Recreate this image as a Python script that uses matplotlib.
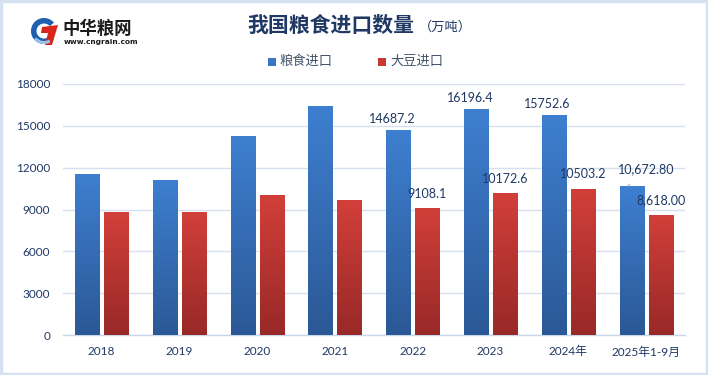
import matplotlib
matplotlib.use("Agg")
import matplotlib.pyplot as plt
import numpy as np
from matplotlib.colors import LinearSegmentedColormap
from matplotlib.patches import Rectangle, Wedge, Polygon

plt.rcParams['font.family'] = ['Lato', 'Noto Sans CJK SC', 'DejaVu Sans']

categories = ['2018', '2019', '2020', '2021', '2022', '2023', '2024年', '2025年1-9月']
grain = [11555.0, 11144.0, 14262.0, 16454.0, 14687.2, 16196.4, 15752.6, 10672.8]
soy = [8803.1, 8851.1, 10033.0, 9652.0, 9108.1, 10172.6, 10503.2, 8618.0]
grain_labels = [None, None, None, None, '14687.2', '16196.4', '15752.6', '10,672.80']
soy_labels = [None, None, None, None, '9108.1', '10172.6', '10503.2', '8,618.00']
yticks = [0, 3000, 6000, 9000, 12000, 15000, 18000]

W, H = 708, 375
fig = plt.figure(figsize=(W / 100, H / 100), dpi=100)
fig.patch.set_facecolor('white')

ax = fig.add_axes([62.6 / W, 40 / H, (685 - 62.6) / W, (335 - 84) / H])
ax.set_facecolor('white')
x = np.arange(len(categories))
bw = 0.31
off = 0.186

blue_cmap = LinearSegmentedColormap.from_list('b', ['#2b5896', '#3e7fd0'])
red_cmap = LinearSegmentedColormap.from_list('r', ['#982927', '#d23f3a'])

ax.set_xlim(-0.5, len(categories) - 0.5)
ax.set_ylim(0, 18000)

def grad_bars(xs, vals, cmap):
    bars = ax.bar(xs, vals, bw, color='none', edgecolor='none', zorder=3)
    grad = np.linspace(0, 1, 256).reshape(-1, 1)
    for b in bars:
        x0, y0 = b.get_x(), b.get_y()
        w, h = b.get_width(), b.get_height()
        im = ax.imshow(grad, cmap=cmap, aspect='auto', origin='lower',
                       extent=[x0, x0 + w, y0, y0 + h], zorder=3)
        im.set_clip_path(b)
    return bars

grad_bars(x - off, grain, blue_cmap)
grad_bars(x + off, soy, red_cmap)
ax.set_xlim(-0.5, len(categories) - 0.5)
ax.set_ylim(0, 18000)

label_color = '#1f3864'
lfs = 9
for i, (v, lab) in enumerate(zip(grain, grain_labels)):
    if lab is None:
        continue
    if i == len(categories) - 1:
        ax.annotate(lab, xy=(i - off - 0.05, v), xytext=(i + 0.0, v + 1250),
                    ha='center', va='center', fontsize=lfs, color=label_color,
                    arrowprops=dict(arrowstyle='-', color='#8eb4e3', lw=0.8,
                                    shrinkA=7, shrinkB=0), zorder=5)
    else:
        ax.annotate(lab, xy=(i - off - 0.08, v), xytext=(0, 4), textcoords='offset points',
                    ha='center', va='bottom', fontsize=lfs, color=label_color, zorder=5)
for i, (v, lab) in enumerate(zip(soy, soy_labels)):
    if lab is None:
        continue
    ax.annotate(lab, xy=(i + off, v), xytext=(0, 6), textcoords='offset points',
                ha='center', va='bottom', fontsize=lfs, color=label_color, zorder=5)

ax.set_yticks(yticks)
ax.set_yticklabels([str(t) for t in yticks])
ax.set_xticks(x)
ax.set_xticklabels(categories)
ax.tick_params(axis='both', length=0, labelsize=8.5, colors='#1f3864')
ax.tick_params(axis='y', pad=9)
ax.tick_params(axis='x', pad=8)
ax.grid(axis='y', color='#d6e0ee', lw=1.0, zorder=0)
ax.set_axisbelow(True)
for s in ['top', 'right', 'left']:
    ax.spines[s].set_visible(False)
ax.spines['bottom'].set_color('#c9d7ea')
ax.spines['bottom'].set_linewidth(1.0)

# overlay for decorations in pixel coordinates
ov = fig.add_axes([0, 0, 1, 1], zorder=10)
ov.set_xlim(0, W)
ov.set_ylim(H, 0)
ov.axis('off')
ov.patch.set_alpha(0)

# border
ov.add_patch(Rectangle((1, 1), W - 2, H - 2, fill=False, edgecolor='#d3e1f0', lw=2.5))

# logo icon
ov.add_patch(Wedge((44, 31), 13, 40, 320, width=5.5, facecolor='#1d5fb0', edgecolor='none'))
ov.add_patch(Polygon([[42, 27], [58, 25], [52, 45], [45, 45], [48, 33], [41, 33]],
                     closed=True, facecolor='#d9261c', edgecolor='none'))
ov.add_patch(Wedge((44, 31), 13, 60, 140, width=3, facecolor='#9cc3ea', edgecolor='none'))
ov.text(62, 29, '中华粮网', fontsize=12.5, fontweight='bold', color='#1a1a1a',
        ha='left', va='center', family=['Noto Sans CJK SC'])
ov.text(64, 42, 'www.cngrain.com', fontsize=5.3, fontweight='bold', color='#1a1a1a',
        ha='left', va='center', family=['DejaVu Sans'])

# title
ov.text(247, 25, '我国粮食进口数量', fontsize=15, fontweight='bold', color='#1f3864',
        ha='left', va='center', family=['Noto Sans CJK SC'])
ov.text(419, 27, '（万吨）', fontsize=9.5, color='#1f3864', ha='left', va='center',
        family=['Noto Sans CJK SC'])

# legend
ov.add_patch(Rectangle((268, 57.5), 8, 8, facecolor='#3a75c4', edgecolor='none'))
ov.text(280, 61.5, '粮食进口', fontsize=9.5, color='#44546a', ha='left', va='center',
        family=['Noto Sans CJK SC'])
ov.add_patch(Rectangle((378, 57.5), 8, 8, facecolor='#c83834', edgecolor='none'))
ov.text(390, 61.5, '大豆进口', fontsize=9.5, color='#44546a', ha='left', va='center',
        family=['Noto Sans CJK SC'])

fig.savefig('out.png', dpi=100, facecolor='white')
